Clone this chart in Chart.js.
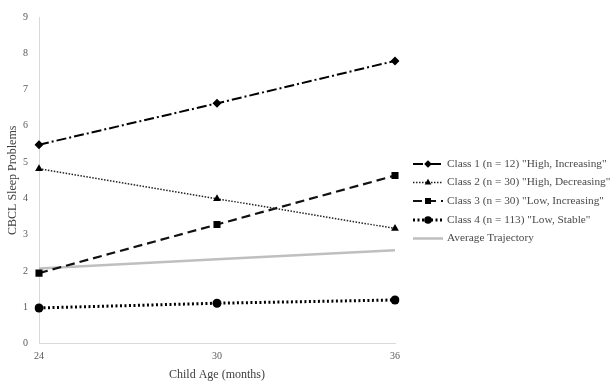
<!DOCTYPE html>
<html>
<head>
<meta charset="utf-8">
<script src="https://cdn.jsdelivr.net/npm/chart.js@4/dist/chart.umd.min.js"></script>
<style>
  html, body { margin: 0; padding: 0; background: #fff; }
  #wrap { width: 612px; height: 386px; position: relative; }
</style>
</head>
<body>
<div id="wrap"><canvas id="c" width="612" height="386"></canvas></div>
<script>
const ages = ['24', '30', '36'];
const seriesNames = [
  'Class 1 (n = 12) "High, Increasing"',
  'Class 2 (n = 30) "High, Decreasing"',
  'Class 3 (n = 30) "Low, Increasing"',
  'Class 4 (n = 113) "Low, Stable"',
  'Average Trajectory'
];
const class1 = [5.48, 6.62, 7.79];
const class2 = [4.82, 3.99, 3.17];
const class3 = [1.94, 3.28, 4.63];
const class4 = [0.98, 1.11, 1.20];
const average = [2.07, 2.32, 2.57];
const yTicks = [0, 1, 2, 3, 4, 5, 6, 7, 8, 9];

const serif = "'Liberation Serif', 'Times New Roman', serif";

const datasets = [
  { label: seriesNames[0], data: class1, borderColor: '#000', backgroundColor: '#000',
    borderWidth: 2, borderDash: [10, 3, 2, 3], pointStyle: 'rectRot', pointRadius: 4.5 },
  { label: seriesNames[1], data: class2, borderColor: '#222', backgroundColor: '#000',
    borderWidth: 1.5, borderDash: [1.5, 1.5], pointStyle: 'triangle', pointRadius: 4.5 },
  { label: seriesNames[2], data: class3, borderColor: '#111', backgroundColor: '#000',
    borderWidth: 2.2, borderDash: [9, 5], pointStyle: 'rect', pointRadius: 5 },
  { label: seriesNames[3], data: class4, borderColor: '#000', backgroundColor: '#000',
    borderWidth: 3, borderDash: [2, 2.5], pointStyle: 'circle', pointRadius: 4.5 },
  { label: seriesNames[4], data: average, borderColor: '#bfbfbf', backgroundColor: '#bfbfbf',
    borderWidth: 2.5, borderDash: [], pointStyle: 'circle', pointRadius: 0 }
];
datasets.forEach(d => { d.fill = false; d.tension = 0; d.pointBorderWidth = 0; d.pointHoverRadius = d.pointRadius; });

const legendRowsY = [164, 182.5, 201, 220, 238.5];

const customLegend = {
  id: 'customLegend',
  afterDraw(chart) {
    const ctx = chart.ctx;
    chart.data.datasets.forEach((ds, i) => {
      const y = legendRowsY[i];
      ctx.save();
      ctx.strokeStyle = ds.borderColor;
      ctx.lineWidth = ds.borderWidth;
      ctx.setLineDash(ds.borderDash || []);
      ctx.beginPath();
      ctx.moveTo(413, y);
      ctx.lineTo(443, y);
      ctx.stroke();
      ctx.setLineDash([]);
      if (ds.pointRadius > 0) {
        ctx.fillStyle = ds.backgroundColor;
        ctx.strokeStyle = ds.backgroundColor;
        Chart.helpers.drawPoint(ctx, { pointStyle: ds.pointStyle, radius: ds.pointRadius * 0.85, borderWidth: 0 }, 428, y);
      }
      ctx.fillStyle = '#4a4a4a';
      ctx.font = '11.3px ' + serif;
      ctx.textBaseline = 'middle';
      ctx.textAlign = 'left';
      ctx.fillText(ds.label, 447, y);
      ctx.restore();
    });
  }
};

new Chart(document.getElementById('c'), {
  type: 'line',
  data: { labels: ages, datasets },
  plugins: [customLegend],
  options: {
    responsive: false,
    animation: false,
    devicePixelRatio: 1,
    layout: { padding: { left: 0, right: 217, top: 15, bottom: 0 } },
    plugins: { legend: { display: false }, tooltip: { enabled: false } },
    scales: {
      x: {
        type: 'category',
        offset: false,
        grid: { display: false, drawTicks: false },
        border: { display: true, color: '#d9d9d9', width: 1 },
        ticks: { color: '#595959', font: { family: serif, size: 10 }, padding: 7, maxRotation: 0 },
        title: { display: true, text: 'Child Age (months)', color: '#404040',
                 font: { family: serif, size: 12 }, padding: { top: 0, bottom: 4 } },
        afterFit(scale) { scale.height = 42.5; }
      },
      y: {
        min: 0, max: 9,
        afterBuildTicks(scale) { scale.ticks = yTicks.map(v => ({ value: v })); },
        grid: { display: false, drawTicks: false },
        border: { display: true, color: '#d9d9d9', width: 1 },
        ticks: { color: '#595959', font: { family: serif, size: 10 }, padding: 11 },
        title: { display: true, text: 'CBCL Sleep Problems', color: '#404040',
                 font: { family: serif, size: 12 }, padding: { top: 6, bottom: 0 } },
        afterFit(scale) { scale.width = 39; }
      }
    }
  }
});
</script>
</body>
</html>
